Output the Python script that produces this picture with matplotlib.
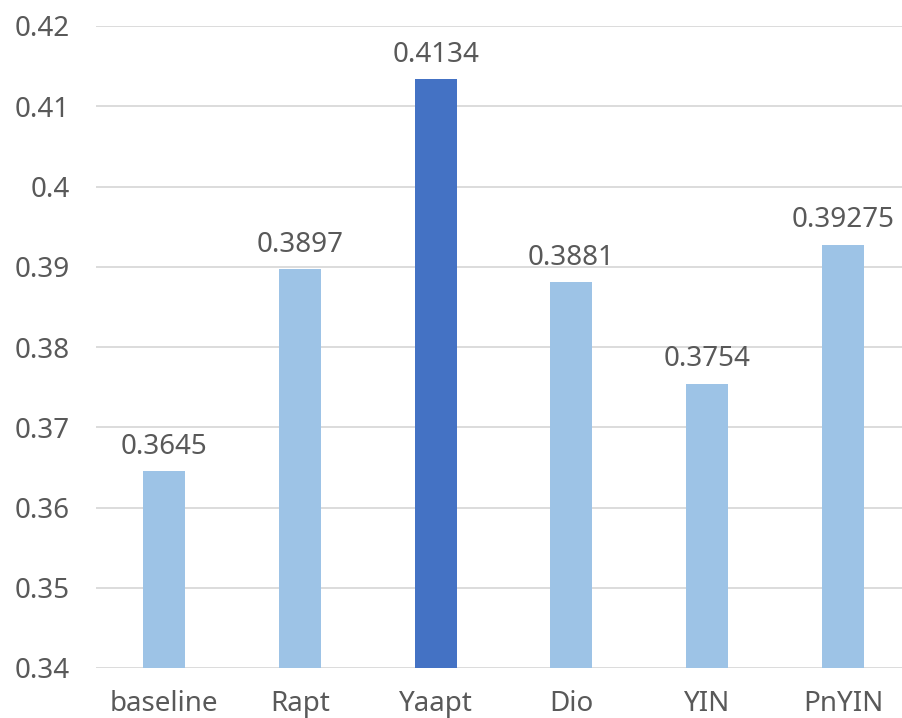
import matplotlib.pyplot as plt

categories = ['baseline', 'Rapt', 'Yaapt', 'Dio', 'YIN', 'PnYIN']
values = [0.3645, 0.3897, 0.4134, 0.3881, 0.3754, 0.39275]
labels = ['0.3645', '0.3897', '0.4134', '0.3881', '0.3754', '0.39275']
highlight = 'Yaapt'

plt.rcParams['font.family'] = ['Noto Sans', 'DejaVu Sans']
txt = '#595959'

fig = plt.figure(figsize=(9.03, 7.18), dpi=100)
# axes spans a bit past the right edge, like the source
ax = fig.add_axes([96 / 903, 1 - 668 / 718, 815 / 903, 642 / 718])

colors = ['#4472C4' if c == highlight else '#9DC3E6' for c in categories]
x = range(len(categories))
ax.bar(x, values, width=0.31, color=colors, zorder=3)

for i, (v, lab) in enumerate(zip(values, labels)):
    ax.text(i, v + 0.0013, lab, ha='center', va='bottom', fontsize=20, color=txt)

ax.set_ylim(0.34, 0.42)
ax.set_xlim(-0.5, 5.5)
ax.set_yticks([0.34 + 0.01 * k for k in range(9)])
ax.set_yticklabels(['0.34', '0.35', '0.36', '0.37', '0.38', '0.39', '0.4', '0.41', '0.42'])
ax.set_xticks(list(x))
ax.set_xticklabels(categories)
ax.tick_params(axis='both', length=0, labelsize=20, labelcolor=txt)
ax.tick_params(axis='y', pad=19)
ax.tick_params(axis='x', pad=16)
ax.yaxis.grid(True, color='#D9D9D9', linewidth=1.3, zorder=0)
for s in ax.spines.values():
    s.set_visible(False)

fig.savefig('out.png', dpi=100)
